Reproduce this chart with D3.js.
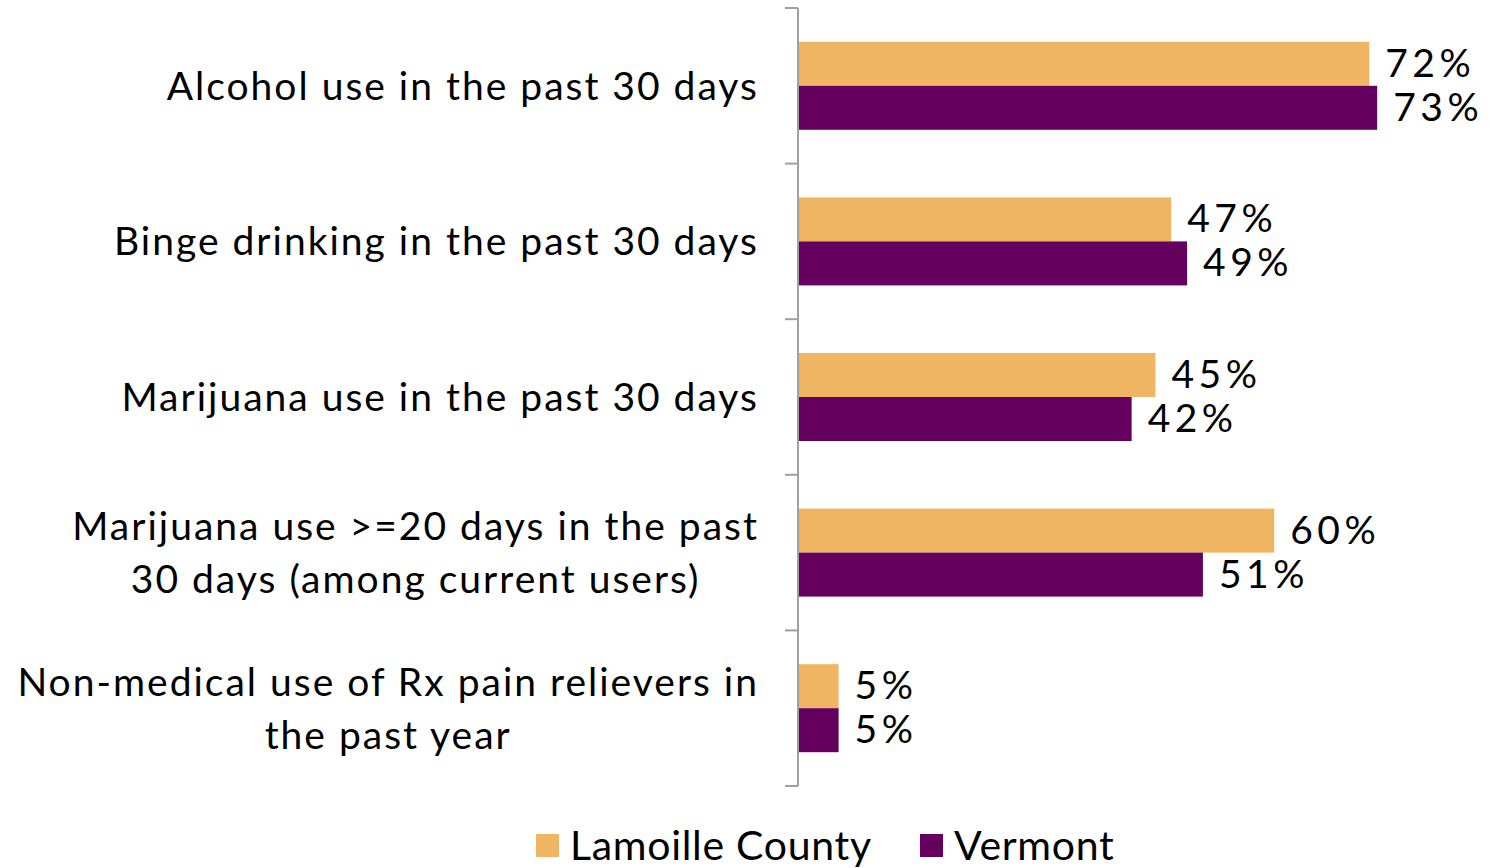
<!DOCTYPE html>
<html><head><meta charset="utf-8">
<script src="https://cdn.jsdelivr.net/npm/d3@7"></script>
<style>body{margin:0;background:#fff;} svg{display:block;} text{font-family:"Lato","DejaVu Sans",sans-serif;fill:#000;}</style>
</head><body>
<svg id="c" width="1493" height="868"></svg>
<script>
const categories = [
  ["Alcohol use in the past 30 days"],
  ["Binge drinking in the past 30 days"],
  ["Marijuana use in the past 30 days"],
  ["Marijuana use >=20 days in the past", "30 days (among current users)"],
  ["Non-medical use of Rx pain relievers in", "the past year"]
];
const seriesNames = ["Lamoille County", "Vermont"];
const lamoille = [72, 47, 45, 60, 5];
const vermont = [73, 49, 42, 51, 5];
const colors = ["#F0B562", "#66005E"];

const svg = d3.select("#c");
const axisX = 799;
const x = d3.scaleLinear().domain([0, 80]).range([axisX, axisX + 80 * 7.92]);
const y = d3.scaleBand().domain(d3.range(categories.length)).range([8, 786]).padding(0);
const barH = 44;
const sub = d3.scaleBand().domain([0, 1]).range([-barH, barH]);

// axis
const ag = svg.append("g");
ag.append("line").attr("x1", axisX - 1).attr("x2", axisX - 1).attr("y1", 8).attr("y2", 786)
  .attr("stroke", "#A0A0A0").attr("stroke-width", 2);
const boundaries = d3.range(categories.length + 1).map(i => i < categories.length ? y(i) : y.range()[1]);
ag.selectAll("line.t").data(boundaries).join("line").attr("class", "t")
  .attr("x1", axisX - 14).attr("x2", axisX - 1).attr("y1", d => d).attr("y2", d => d)
  .attr("stroke", "#A0A0A0").attr("stroke-width", 2);

const data = [lamoille, vermont];
data.forEach((vals, s) => {
  const g = svg.append("g");
  g.selectAll("rect").data(vals).join("rect")
    .attr("x", x(0))
    .attr("y", (d, i) => y(i) + y.bandwidth() / 2 + sub(s))
    .attr("width", d => x(d) - x(0))
    .attr("height", sub.bandwidth())
    .attr("fill", colors[s]);
  g.selectAll("text").data(vals).join("text")
    .attr("x", d => x(d) + 16)
    .attr("y", (d, i) => y(i) + y.bandwidth() / 2 + sub(s) + sub.bandwidth() / 2 + 13)
    .attr("font-size", 39)
    .attr("letter-spacing", 4.5)
    .text(d => d + "%");
});

// category labels: block right-aligned at 758, lines centered within block
const lg = svg.append("g");
categories.forEach((lines, i) => {
  const cy = y(i) + y.bandwidth() / 2;
  const lh = 53;
  const t = lg.append("text").attr("text-anchor", "middle").attr("font-size", 39).attr("letter-spacing", 2);
  const spans = lines.map((ln, j) => t.append("tspan")
      .attr("y", cy + 14 + (j - (lines.length - 1) / 2) * lh)
      .text(ln));
  const maxW = d3.max(spans, sp => sp.node().getComputedTextLength());
  spans.forEach(sp => sp.attr("x", 758 - maxW / 2 + 1));
});

// legend
const leg = svg.append("g");
const legX = [536, 920];
seriesNames.forEach((n, i) => {
  leg.append("rect").attr("x", legX[i]).attr("y", 834).attr("width", 23).attr("height", 23).attr("fill", colors[i]);
  leg.append("text").attr("x", legX[i] + 34).attr("y", 860).attr("font-size", 41).attr("letter-spacing", 0.7).text(n);
});
</script>
</body></html>
